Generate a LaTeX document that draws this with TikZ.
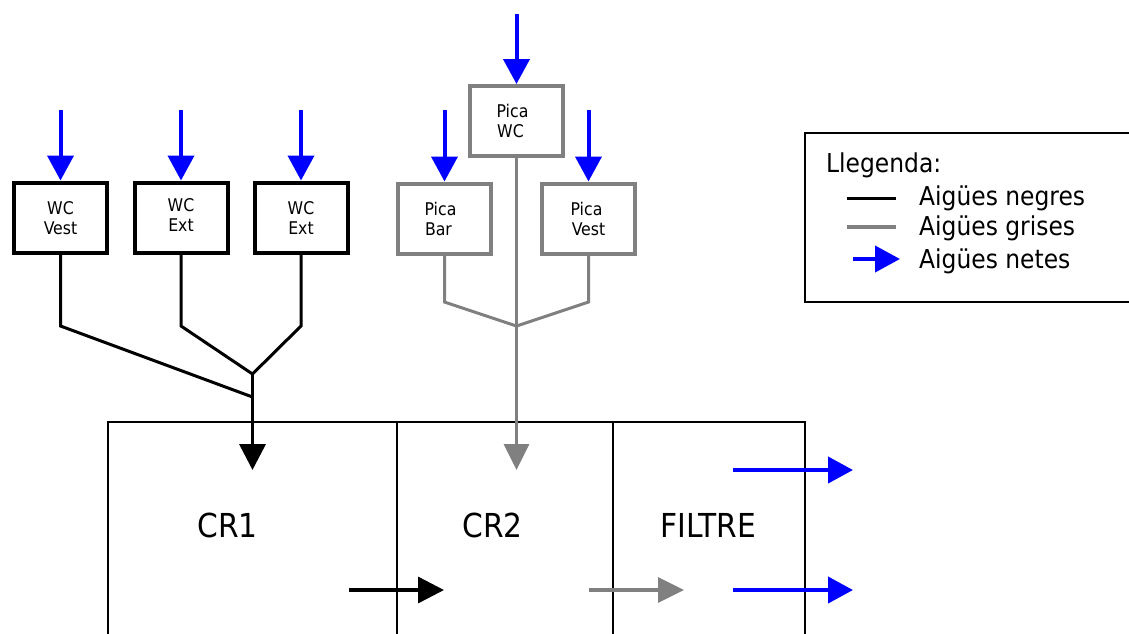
\documentclass[tikz,border=0pt]{standalone}
\usepackage{fontspec}
\setmainfont{DejaVu Sans Condensed}
\usetikzlibrary{arrows.meta,calc}
\definecolor{grayw}{RGB}{128,128,128}
\definecolor{bluew}{RGB}{0,0,255}
\begin{document}
\begin{tikzpicture}[x=1pt,y=-1pt,
  wcbox/.style={draw=black, line width=4pt, fill=white, minimum width=93pt, minimum height=70pt, inner sep=0pt, align=center, font=\fontsize{17.5}{20}\selectfont},
  picabox/.style={wcbox, draw=grayw},
  blackline/.style={draw=black, line width=3pt, line join=miter},
  grayline/.style={draw=grayw, line width=3pt, line join=miter},
  bluearr/.style={draw=bluew, line width=4pt, -{Triangle[length=25pt,width=26pt]}},
  blackarr/.style={draw=black, line width=3.5pt, -{Triangle[length=26pt,width=26pt]}},
  grayarr/.style={draw=grayw, line width=3.5pt, -{Triangle[length=26pt,width=25pt]}},
  thinframe/.style={draw=black, line width=1.5pt},
  bigtext/.style={font=\fontsize{33}{40}\selectfont, inner sep=0pt},
  legtext/.style={font=\fontsize{26}{31}\selectfont, inner sep=0pt, anchor=base west}
]
\useasboundingbox (0,0) rectangle (1129,633);

% chambers
\draw[thinframe] (108,660) -- (108,422) -- (805,422) -- (805,660);
\draw[thinframe] (397,422) -- (397,660);
\draw[thinframe] (613,422) -- (613,660);
\node[bigtext, anchor=base] (cr1) at (227.5,537) {CR1};
\node[bigtext, anchor=base] (cr2) at (492.5,537) {CR2};
\node[bigtext, anchor=base] (filtre) at (708.5,537) {FILTRE};

% boxes
\node[wcbox] (wc1) at (60.5,217.5) {\strut WC\\Vest};
\node[wcbox] (wc2) at (181,217.5) {WC\\Ext\strut};
\node[wcbox] (wc3) at (301,217.5) {\strut WC\\Ext};
\node[picabox] (pwc) at (516.5,121) {Pica\hspace*{8pt}\\WC\hspace*{12pt}};
\node[picabox] (pbar) at (444.5,218.5) {Pica\hspace*{8pt}\\Bar\hspace*{12pt}};
\node[picabox] (pvest) at (588.5,218.5) {Pica\hspace*{4pt}\\Vest};

% clean water inputs
\coordinate (a1) at (60.5,110);
\coordinate (a2) at (181,110);
\coordinate (a3) at (301,110);
\coordinate (a4) at (516.5,14);
\coordinate (a5) at (444.5,110);
\coordinate (a6) at (588.5,110);
\draw[bluearr] (a1) -- (wc1.north);
\draw[bluearr] (a2) -- (wc2.north);
\draw[bluearr] (a3) -- (wc3.north);
\draw[bluearr] (a4) -- (pwc.north);
\draw[bluearr] (a5) -- (pbar.north);
\draw[bluearr] (a6) -- (pvest.north);

% black water tree
\coordinate (k1) at (60.5,326);
\coordinate (k2) at (181,326);
\coordinate (k3) at (301,326);
\coordinate (j1) at (252.5,374);
\coordinate (j2) at (252.5,397);
\coordinate (cr1in) at (252.5,470);
\draw[blackline] (wc1.south) -- (k1) -- (j2);
\draw[blackline] (wc2.south) -- (k2) -- (j1);
\draw[blackline] (wc3.south) -- (k3) -- (j1);
\draw[blackarr] (j1) -- (cr1in);

% grey water tree
\coordinate (g1) at (444.5,302);
\coordinate (g2) at (588.5,302);
\coordinate (gj) at (516.5,326);
\coordinate (cr2in) at (516.5,470);
\draw[grayline] (pbar.south) -- (g1) -- (gj) -- (g2) -- (pvest.south);
\draw[grayarr] (pwc.south) -- (cr2in);

% internal flows
\coordinate (b1s) at (349,590);
\coordinate (b1e) at (444,590);
\coordinate (b2s) at (589,590);
\coordinate (b2e) at (684,590);
\coordinate (b3s) at (733,470);
\coordinate (b3e) at (853,470);
\coordinate (b4s) at (733,590);
\coordinate (b4e) at (853,590);
\draw[blackarr] (b1s) -- (b1e);
\draw[grayarr] (b2s) -- (b2e);
\draw[bluearr] (b3s) -- (b3e);
\draw[bluearr] (b4s) -- (b4e);

% legend
\draw[thinframe] (1140,133) -- (805,133) -- (805,302) -- (1140,302);
\node[legtext] (leg) at (826,172) {Llegenda:};
\node[legtext] (legn) at (919,205.5) {Aigües negres};
\node[legtext] (legg) at (919,235.5) {Aigües grises};
\node[legtext] (legb) at (919,268) {Aigües netes};
\coordinate (l1a) at (847,198);
\coordinate (l1b) at (896,198);
\coordinate (l2a) at (847,227);
\coordinate (l2b) at (896,227);
\coordinate (l3a) at (853,259);
\coordinate (l3b) at (900,259);
\draw[blackline] (l1a) -- (l1b);
\draw[grayline, line width=4pt] (l2a) -- (l2b);
\draw[bluearr] (l3a) -- (l3b);
\end{tikzpicture}
\end{document}
